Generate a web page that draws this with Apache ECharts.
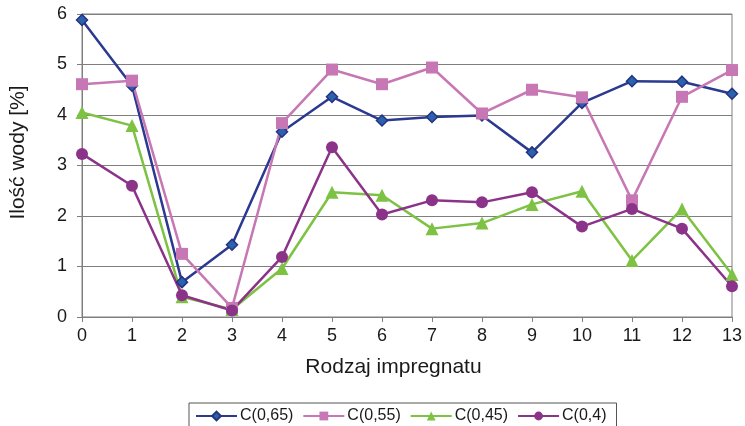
<!DOCTYPE html>
<html>
<head>
<meta charset="utf-8">
<script src="https://cdn.jsdelivr.net/npm/echarts@6/dist/echarts.min.js"></script>
<style>
html,body{margin:0;padding:0;background:#fff;}
#chart{width:745px;height:426px;}
</style>
</head>
<body>
<div id="chart"></div>
<script>
const categories = ['0','1','2','3','4','5','6','7','8','9','10','11','12','13'];
const seriesNames = ['C(0,65)','C(0,55)','C(0,45)','C(0,4)'];
const c065 = [5.88, 4.58, 0.69, 1.43, 3.67, 4.36, 3.89, 3.96, 3.99, 3.26, 4.24, 4.67, 4.66, 4.42];
const c055 = [4.61, 4.68, 1.25, 0.18, 3.84, 4.90, 4.61, 4.94, 4.03, 4.50, 4.35, 2.31, 4.36, 4.89];
const c045 = [4.05, 3.79, 0.40, 0.15, 0.96, 2.47, 2.41, 1.75, 1.86, 2.23, 2.49, 1.12, 2.14, 0.84];
const c04  = [3.23, 2.60, 0.43, 0.13, 1.19, 3.36, 2.03, 2.31, 2.27, 2.47, 1.79, 2.14, 1.75, 0.61];
const yTicks = [0,1,2,3,4,5,6];

const font = 'Liberation Sans, Arial, sans-serif';
const chart = echarts.init(document.getElementById('chart'), null, {renderer:'canvas'});

function mk(name, data, lineColor, symbol, size, fill, border){
  return {
    name: name, type: 'line', data: data,
    symbol: symbol, symbolSize: size,
    lineStyle: {color: lineColor, width: 2.5},
    itemStyle: {color: fill, borderColor: border || fill, borderWidth: border ? 1.5 : 0},
    emphasis: {disabled: true},
    animation: false
  };
}

chart.setOption({
  animation: false,
  grid: {left: 82, right: 10, top: 14, bottom: 109, show: true, borderColor: '#7f7f7f', borderWidth: 1},
  xAxis: {
    type: 'category', data: categories, boundaryGap: false,
    name: 'Rodzaj impregnatu', nameLocation: 'middle', nameGap: 40,
    nameTextStyle: {fontFamily: font, fontSize: 21, color: '#1a1a1a', padding: [0, 27, 0, 0]},
    axisLine: {lineStyle: {color: '#7f7f7f', width: 1}},
    axisTick: {show: true, length: 5, inside: false, lineStyle: {color: '#7f7f7f'}},
    axisLabel: {fontFamily: font, fontSize: 18, color: '#1a1a1a', margin: 10},
    splitLine: {show: false}
  },
  yAxis: {
    type: 'value', min: 0, max: 6, interval: 1,
    name: 'Ilość wody [%]', nameLocation: 'middle', nameGap: 53, nameRotate: 90,
    nameTextStyle: {fontFamily: font, fontSize: 21, color: '#1a1a1a', padding: [0, 0, 0, 26]},
    axisLine: {show: true, lineStyle: {color: '#7f7f7f', width: 1}},
    axisTick: {show: true, length: 5, inside: false, lineStyle: {color: '#7f7f7f'}},
    axisLabel: {fontFamily: font, fontSize: 18, color: '#1a1a1a', margin: 15,
      formatter: v => yTicks.includes(v) ? String(v) : ''},
    splitLine: {show: true, lineStyle: {color: '#7f7f7f', width: 1}}
  },
  legend: {
    left: 189, top: 403, width: 440,
    itemGap: 9, itemWidth: 41, itemHeight: 11,
    padding: [5, 10, 12, 6],
    borderColor: '#555', borderWidth: 1,
    textStyle: {fontFamily: font, fontSize: 16, color: '#1a1a1a', padding: [0,0,0,-2]},
    data: seriesNames
  },
  series: [
    mk(seriesNames[0], c065, '#2b3990', 'diamond', 11, '#2a62b0', '#26337f'),
    mk(seriesNames[1], c055, '#c778b4', 'rect', 12, '#c778b4'),
    mk(seriesNames[2], c045, '#7dc243', 'triangle', 13, '#7dc243'),
    mk(seriesNames[3], c04, '#8b3389', 'circle', 12, '#8b3389')
  ]
});
</script>
</body>
</html>
